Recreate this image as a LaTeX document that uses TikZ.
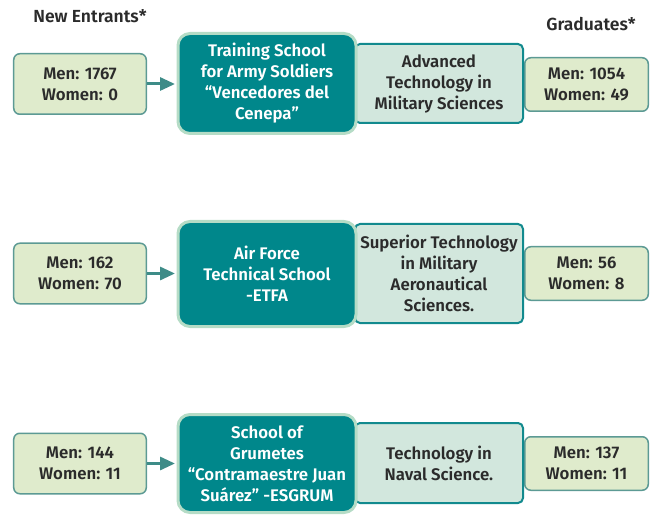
\documentclass[tikz,border=0pt]{standalone}
\usepackage{fontspec}
\setmainfont{Fira Sans}[BoldFont={Fira Sans SemiBold}]
\usetikzlibrary{arrows.meta}
\definecolor{schoolfill}{HTML}{00878B}
\definecolor{schooledge}{HTML}{B5DCC6}
\definecolor{progfill}{HTML}{D2E7DD}
\definecolor{progedge}{HTML}{128A8E}
\definecolor{countfill}{HTML}{DFEBCC}
\definecolor{countedge}{HTML}{5C9A94}
\definecolor{flowteal}{HTML}{3E8C88}
\definecolor{inkgray}{HTML}{2B2B2B}
\begin{document}
\begin{tikzpicture}[x=1bp,y=-1bp,
  every node/.style={font=\fontsize{16.8bp}{21bp}\selectfont\bfseries,
    text=inkgray, align=center, inner sep=0pt},
  countbox/.style={draw=countedge, fill=countfill, line width=1.5bp,
    rounded corners=6bp, minimum width=123.5bp, minimum height=53.5bp},
  entrybox/.style={countbox, minimum width=132.5bp, minimum height=60.5bp},
  progbox/.style={draw=progedge, fill=progfill, line width=2bp,
    rounded corners=5bp, minimum width=168bp},
  schoolbox/.style={draw=schooledge, fill=schoolfill, line width=3bp,
    rounded corners=12bp, minimum width=178bp, text=white},
  flowarrow/.style={draw=flowteal, line width=3bp,
    -{Triangle[length=15bp,width=13bp]}, shorten >=1.5bp}]
\useasboundingbox (0,0) rectangle (653,521);
% column heads
\node[font=\fontsize{17.5bp}{21bp}\selectfont\bfseries] (entrylabel) at (90,16) {New Entrants*};
\node[font=\fontsize{17.5bp}{21bp}\selectfont\bfseries] (gradlabel) at (591,24) {Graduates*};
% army
\node[countbox] (grad1) at (586.5,84.5) {Men: 1054\\Women: 49};
\node[progbox, minimum height=79bp] (prog1) at (439,83.5)
  {Advanced\\Technology in\\Military Sciences};
\node[schoolbox, minimum height=100bp] (school1) at (267,83.5)
  {Training School\\for Army Soldiers\\“Vencedores del\\Cenepa”};
\node[entrybox] (entry1) at (80,84) {Men: 1767\\Women: 0};
\draw[flowarrow] (entry1) -- (entry1 -| school1.west);
% air force
\node[countbox] (grad2) at (586.5,273.5) {Men: 56\\Women: 8};
\node[progbox, minimum height=99bp] (prog2) at (439,273.5)
  {Superior Technology\\in Military\\Aeronautical\\Sciences.};
\node[schoolbox, minimum height=105bp] (school2) at (267,274)
  {Air Force\\Technical School\\-ETFA};
\node[entrybox] (entry2) at (80,273.5) {Men: 162\\Women: 70};
\draw[flowarrow] (entry2) -- (entry2 -| school2.west);
% navy
\node[countbox] (grad3) at (586.5,463.5) {Men: 137\\Women: 11};
\node[progbox, minimum height=80bp] (prog3) at (439,463)
  {Technology in\\Naval Science.};
\node[schoolbox, minimum height=98bp] (school3) at (267,463.5)
  {School of\\Grumetes\\“Contramaestre Juan\\Suárez” -ESGRUM};
\node[entrybox] (entry3) at (80,463.5) {Men: 144\\Women: 11};
\draw[flowarrow] (entry3) -- (entry3 -| school3.west);
\end{tikzpicture}
\end{document}
